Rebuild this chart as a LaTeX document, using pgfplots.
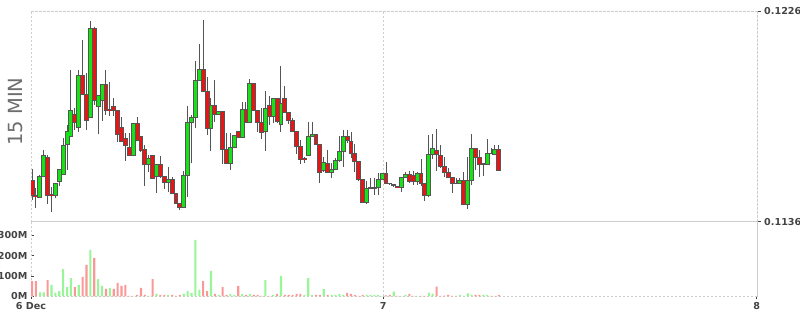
\documentclass[border=0pt]{standalone}
\usepackage{fontspec}
\setmainfont{DejaVu Sans}
\newfontfamily\lblfont{DejaVu Sans Bold}
\usepackage{pgfplots}
\usepackage{pgfplotstable}
\pgfplotsset{compat=1.18}
\definecolor{cgreen}{RGB}{20,228,20}
\definecolor{cred}{RGB}{235,20,20}
\definecolor{cborder}{RGB}{85,85,85}
\definecolor{vgreen}{RGB}{152,245,152}
\definecolor{vred}{RGB}{250,152,152}
\definecolor{gridc}{RGB}{205,205,205}
\definecolor{lblc}{RGB}{68,68,68}
\definecolor{ttlc}{RGB}{110,110,110}
\pgfplotstableread{
n o h l c v vd
0 1153.4 1158.5 1145.3 1147.4 75 0
1 1147.3 1150.3 1142.0 1146.6 75 0
2 1146.4 1156.0 1146.3 1155.4 19 1
3 1155.4 1166.6 1155.0 1164.2 19 1
4 1163.5 1164.5 1143.4 1147.3 80 0
5 1147.6 1151.0 1140.3 1147.1 56 1
6 1147.3 1152.6 1146.0 1152.4 18 1
7 1153.3 1158.6 1151.4 1158.4 26 1
8 1156.2 1171.6 1156.0 1168.6 134 1
9 1168.8 1177.3 1158.1 1174.6 45 1
10 1172.5 1200.8 1172.3 1183.6 90 1
11 1181.6 1184.4 1175.2 1178.5 45 0
12 1176.2 1200.8 1174.5 1198.5 56 1
13 1198.5 1213.6 1190.2 1190.4 95 0
14 1190.4 1199.4 1175.2 1179.3 154 0
15 1180.6 1221.7 1180.4 1218.6 228 1
16 1218.6 1219.3 1185.9 1187.6 189 0
17 1185.4 1190.1 1173.3 1189.7 85 1
18 1187.6 1194.9 1179.0 1194.7 51 1
19 1194.7 1200.8 1181.6 1183.4 36 0
20 1183.9 1195.8 1181.2 1183.4 41 1
21 1185.3 1188.7 1181.3 1183.6 36 0
22 1183.6 1183.8 1170.2 1173.3 66 0
23 1176.3 1180.9 1170.2 1170.3 51 0
24 1171.6 1173.8 1162.1 1168.5 56 0
25 1167.8 1173.8 1164.2 1164.4 2 0
26 1164.4 1178.3 1164.2 1178.0 2 1
27 1178.0 1180.7 1170.6 1170.8 7 0
28 1172.5 1172.7 1165.9 1166.4 41 0
29 1166.8 1168.8 1151.4 1160.5 7 0
30 1160.5 1164.5 1157.4 1162.9 2 1
31 1164.4 1164.6 1154.3 1154.5 85 0
32 1155.1 1160.7 1148.1 1160.5 12 1
33 1160.5 1164.2 1154.5 1155.1 7 0
34 1155.1 1155.3 1149.8 1152.8 7 0
35 1152.8 1159.2 1148.8 1154.1 7 1
36 1154.1 1155.1 1147.8 1148.0 7 0
37 1148.0 1148.2 1143.7 1143.9 2 0
38 1143.9 1144.1 1141.2 1142.1 7 0
39 1142.1 1157.8 1142.0 1155.7 12 1
40 1155.8 1185.6 1146.7 1178.5 26 1
41 1178.5 1181.6 1160.9 1180.4 17 1
42 1180.6 1204.6 1176.2 1196.4 277 1
43 1196.3 1211.8 1196.1 1201.2 31 1
44 1201.2 1222.2 1191.6 1191.8 75 0
45 1191.7 1198.0 1173.0 1175.6 26 0
46 1175.6 1188.7 1166.4 1185.6 125 1
47 1185.6 1196.5 1178.7 1181.6 12 0
48 1181.6 1183.2 1181.4 1183.0 7 1
49 1183.0 1183.2 1160.5 1166.9 45 0
50 1166.9 1173.8 1160.5 1160.9 7 0
51 1160.9 1173.8 1158.0 1167.8 12 1
52 1167.8 1173.0 1167.6 1172.8 7 1
53 1174.6 1174.9 1171.6 1171.8 51 0
54 1172.0 1187.0 1171.8 1183.9 12 1
55 1183.9 1187.0 1178.3 1178.5 7 0
56 1178.5 1196.8 1178.3 1195.1 12 1
57 1195.1 1195.3 1183.4 1183.6 7 0
58 1183.6 1183.8 1174.2 1178.5 7 0
59 1178.5 1184.4 1171.3 1174.2 2 0
60 1174.5 1191.8 1166.4 1184.4 80 1
61 1185.6 1189.7 1177.3 1180.9 2 0
62 1180.9 1188.9 1178.0 1188.7 7 1
63 1188.7 1188.9 1178.0 1178.7 12 0
64 1177.6 1202.5 1174.5 1186.6 100 1
65 1188.7 1194.0 1182.5 1182.7 7 0
66 1182.7 1182.9 1177.6 1179.2 7 0
67 1179.2 1180.2 1174.3 1174.5 7 0
68 1174.5 1174.7 1164.8 1168.1 12 0
69 1168.1 1170.9 1160.8 1162.6 12 0
70 1163.1 1163.6 1161.2 1162.6 7 1
71 1164.4 1178.5 1164.2 1172.3 90 1
72 1172.3 1178.5 1172.1 1173.3 7 1
73 1173.3 1173.5 1168.6 1168.8 7 0
74 1168.8 1169.0 1152.7 1157.1 7 0
75 1157.7 1163.5 1157.4 1161.4 36 1
76 1160.9 1166.6 1156.9 1157.1 7 0
77 1157.1 1160.9 1154.8 1158.4 7 1
78 1158.4 1163.1 1158.2 1162.1 7 1
79 1162.1 1172.6 1161.7 1165.9 12 1
80 1166.1 1175.2 1159.5 1172.5 7 1
81 1172.5 1175.2 1169.5 1170.5 17 0
82 1170.2 1174.5 1163.1 1165.2 12 0
83 1165.2 1169.1 1157.4 1161.9 7 0
84 1161.9 1162.1 1153.5 1154.0 2 0
85 1154.0 1154.2 1144.1 1144.3 7 0
86 1144.3 1153.5 1143.6 1150.3 7 1
87 1150.3 1154.5 1150.0 1150.5 7 1
88 1150.3 1154.5 1147.4 1150.7 7 1
89 1150.7 1156.7 1147.4 1154.1 7 1
90 1154.1 1156.6 1153.9 1156.4 2 1
91 1156.4 1161.7 1152.2 1152.4 4 0
92 1152.4 1152.7 1151.7 1152.3 7 0
93 1151.7 1152.0 1151.0 1151.3 23 1
94 1151.0 1151.1 1150.3 1150.5 2 0
95 1150.7 1155.2 1148.6 1155.0 2 1
96 1155.0 1157.4 1154.8 1156.1 7 1
97 1156.1 1157.7 1152.4 1153.1 12 0
98 1155.7 1157.7 1151.7 1153.1 2 0
99 1153.1 1157.4 1151.7 1156.7 2 1
100 1156.7 1162.8 1151.4 1152.4 2 0
101 1152.4 1152.6 1145.0 1147.4 2 0
102 1147.4 1173.0 1146.7 1164.5 18 1
103 1164.5 1173.6 1162.7 1167.3 13 1
104 1166.6 1175.6 1157.7 1164.5 47 0
105 1164.2 1168.8 1159.1 1159.4 2 0
106 1159.4 1163.6 1155.2 1157.1 3 0
107 1157.1 1159.1 1154.5 1154.8 7 0
108 1154.8 1155.0 1148.4 1152.4 2 0
109 1152.4 1154.5 1152.1 1152.3 2 0
110 1152.4 1154.5 1152.2 1153.5 7 1
111 1153.5 1157.4 1143.2 1143.4 2 1
112 1143.4 1163.8 1141.3 1153.4 14 1
113 1153.4 1173.5 1151.7 1167.3 8 1
114 1167.3 1167.5 1158.1 1163.5 7 0
115 1163.5 1166.6 1155.2 1160.5 7 0
116 1160.7 1160.9 1155.7 1160.4 7 1
117 1160.5 1171.2 1160.3 1165.2 7 1
118 1165.2 1167.3 1164.8 1165.1 2 0
119 1164.9 1168.8 1164.7 1166.9 2 0
120 1166.9 1168.8 1157.8 1158.0 7 0
}\candles
\pgfplotsset{
  frame/.style={
    scale only axis, anchor=south west, width=725.7pt,
    xmin=-0.27, xmax=186.3,
    axis line style={gridc, dash pattern=on 2pt off 2pt},
    xtick={-0.27,90.3,186.3},
    xmajorgrids,
    grid style={gridc, dash pattern=on 2pt off 2pt},
    tick style={lblc, line width=0.9pt, solid},
    ticklabel style={font=\lblfont\fontsize{9.6}{10}\selectfont, text=lblc},
    /pgf/number format/assume math mode=true,
  },
  eb/.style={draw=none, mark=none, forget plot,
    error bars/.cd, y dir=plus, y explicit, error mark=none,
    error bar style={#1}, /pgfplots/.cd},
}
\begin{document}
\begin{tikzpicture}
\path[use as bounding box] (0pt,0pt) rectangle (800pt,315pt);
\node[rotate=90, font=\fontsize{19.5}{20}\selectfont, text=ttlc] at (15.8pt,203.5pt) {15 MIN};
\begin{axis}[frame,
  at={(31pt,93.3pt)}, height=210.7pt,
  ymin=1136, ymax=1226,
  xticklabels={}, xtick style={draw=none},
  ymajorgrids,
  ytick={1136,1226}, yticklabels={0.1136,0.1226},
  ytick pos=right, yticklabel pos=right,
  tick align=outside, major tick length=4pt,
]
\addplot[eb={cborder, line width=1pt}]
  table[x=n, y=l, y error plus expr=\thisrow{h}-\thisrow{l}] {\candles};
\addplot[eb={cborder, line width=4.9pt}]
  table[x=n, y expr={min(\thisrow{o},\thisrow{c})-0.21},
        y error plus expr={abs(\thisrow{c}-\thisrow{o})+0.43}] {\candles};
\addplot[restrict expr to domain={\thisrow{c}-\thisrow{o}}{0:1000},
  eb={cgreen, line width=2.9pt}]
  table[x=n, y expr={\thisrow{o}+0.21},
        y error plus expr={max(\thisrow{c}-\thisrow{o}-0.43,0)}] {\candles};
\addplot[restrict expr to domain={\thisrow{c}-\thisrow{o}}{-1000:-0.001},
  eb={cred, line width=2.9pt}]
  table[x=n, y expr={\thisrow{c}+0.21},
        y error plus expr={max(\thisrow{o}-\thisrow{c}-0.43,0)}] {\candles};
\end{axis}
\begin{axis}[frame,
  at={(31pt,18.7pt)}, height=75.3pt,
  ymin=0, ymax=370.5,
  xticklabels={6 Dec,7,8},
  ytick={0,100,200,300}, yticklabels={0M,100M,200M,300M},
  ytick pos=left, xtick pos=bottom,
  xtick align=outside, ytick align=inside, major tick length=3pt,
]
\addplot[ybar, bar width=2.1pt, bar shift=0pt, fill=vgreen, draw=none,
  restrict expr to domain={\thisrow{vd}}{0.5:1.5}]
  table[x=n, y=v] {\candles};
\addplot[ybar, bar width=2.1pt, bar shift=0pt, fill=vred, draw=none,
  restrict expr to domain={\thisrow{vd}}{-0.5:0.5}]
  table[x=n, y=v] {\candles};
\end{axis}
\end{tikzpicture}
\end{document}
